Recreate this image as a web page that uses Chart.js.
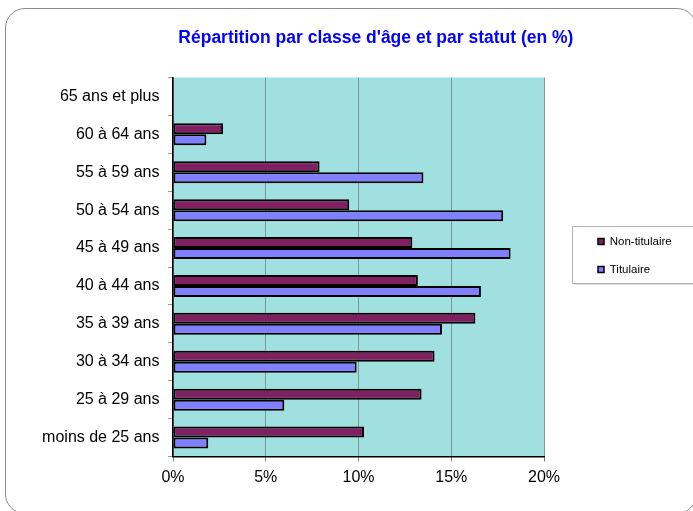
<!DOCTYPE html>
<html>
<head>
<meta charset="utf-8">
<script src="https://cdn.jsdelivr.net/npm/chart.js@4.4.1/dist/chart.umd.min.js"></script>
<style>
  html, body { margin: 0; padding: 0; background: #ffffff; overflow: hidden; }
  #wrap { position: relative; width: 693px; height: 511px; overflow: hidden; }
  #frame { position: absolute; left: 5px; top: 8px; width: 692px; height: 506px;
           border: 1px solid #8c8c8c; border-radius: 20px; box-sizing: border-box; }
  #c { position: absolute; left: 0; top: 0; }
</style>
</head>
<body>
<div id="wrap">
  <div id="frame"></div>
  <canvas id="c" width="693" height="511"></canvas>
</div>
<script>
const titleText = "Répartition par classe d'âge et par statut (en %)";
const categories = ['65 ans et plus', '60 à 64 ans', '55 à 59 ans', '50 à 54 ans', '45 à 49 ans',
                    '40 à 44 ans', '35 à 39 ans', '30 à 34 ans', '25 à 29 ans', 'moins de 25 ans'];
const seriesNames = ['Non-titulaire', 'Titulaire'];
const nonTitulaire = [0, 2.7, 7.9, 9.5, 12.9, 13.2, 16.3, 14.1, 13.4, 10.3];
const titulaire    = [0, 1.8, 13.5, 17.8, 18.2, 16.6, 14.5, 9.9, 6.0, 1.9];
const xMin = 0, xMax = 20, xStep = 5;

const FONT = "'Liberation Sans', Arial, sans-serif";

const plotBg = {
  id: 'plotBg',
  beforeDraw(chart) {
    const a = chart.chartArea, ctx = chart.ctx;
    ctx.save();
    ctx.fillStyle = '#a0e0e0';
    ctx.fillRect(a.left, a.top, a.right - a.left, a.bottom - a.top);
    ctx.restore();
  }
};

// the original title is centred over the plot + legend block, not the whole canvas
const titleShift = {
  id: 'titleShift',
  afterLayout(chart) {
    const tb = chart.titleBlock;
    if (tb) { tb.left += 20; tb.right += 20; }
  }
};

const legendFrame = {
  id: 'legendFrame',
  afterDraw(chart) {
    const lg = chart.legend;
    if (!lg || !lg.legendHitBoxes || lg.legendHitBoxes.length < 2) return;
    const h0 = lg.legendHitBoxes[0], h1 = lg.legendHitBoxes[lg.legendHitBoxes.length - 1];
    const ctx = chart.ctx;
    const left = Math.round(h0.left - 26) + 0.5;
    const top = Math.round(h0.top - 10) + 0.5;
    const bottom = Math.round(h1.top + h1.height + 7.5) + 0.5;
    ctx.save();
    ctx.strokeStyle = '#b4b4b4';
    ctx.lineWidth = 1;
    ctx.strokeRect(left, top, chart.width + 10 - left, bottom - top);
    ctx.strokeStyle = '#d8d8d8';
    ctx.beginPath();
    ctx.moveTo(left + 2, bottom + 1);
    ctx.lineTo(chart.width, bottom + 1);
    ctx.stroke();
    ctx.restore();
  }
};

new Chart(document.getElementById('c'), {
  type: 'bar',
  data: {
    labels: categories,
    datasets: [
      { label: seriesNames[0], data: nonTitulaire, backgroundColor: '#802060',
        borderColor: '#000000', borderWidth: 2, borderSkipped: false,
        categoryPercentage: 0.58, barPercentage: 1.0 },
      { label: seriesNames[1], data: titulaire, backgroundColor: '#8080ff',
        borderColor: '#000000', borderWidth: 2, borderSkipped: false,
        categoryPercentage: 0.58, barPercentage: 1.0 }
    ]
  },
  options: {
    indexAxis: 'y',
    responsive: false,
    animation: false,
    devicePixelRatio: 1,
    layout: { padding: { left: 30, right: 11.25, top: 0, bottom: 0 } },
    plugins: {
      title: {
        display: true,
        text: titleText,
        color: '#0000ff',
        font: { family: FONT, size: 17.5, weight: 'bold', lineHeight: 1.2 },
        padding: { top: 27.5, bottom: 29 }
      },
      legend: {
        display: true,
        position: 'right',
        align: 'center',
        labels: {
          color: '#000000',
          font: { family: FONT, size: 11.5 },
          boxWidth: 6,
          boxHeight: 6,
          padding: 16.5,
          generateLabels: chart => chart.data.datasets.map((ds, i) => ({
            text: ds.label, fillStyle: ds.backgroundColor, strokeStyle: '#000000',
            lineWidth: 1.5, hidden: false, datasetIndex: i, fontColor: '#000000'
          }))
        }
      },
      tooltip: { enabled: false }
    },
    scales: {
      x: {
        type: 'linear',
        position: 'bottom',
        min: xMin, max: xMax,
        ticks: {
          stepSize: xStep,
          color: '#000000',
          font: { family: FONT, size: 16 },
          padding: 6,
          callback: v => v + '%'
        },
        grid: { color: '#789898', lineWidth: 1, drawTicks: true, tickLength: 5, tickColor: '#7a7a7a' },
        border: { display: true, color: '#000000', width: 1.5 },
        afterFit: s => { s.height = 54.5; }
      },
      y: {
        type: 'category',
        position: 'left',
        ticks: { color: '#000000', font: { family: FONT, size: 16 }, padding: 8.5 },
        grid: { display: true, drawOnChartArea: false, drawTicks: true, tickLength: 5, color: '#9a9a9a', offset: true },
        border: { display: true, color: '#000000', width: 1.5 },
        afterFit: s => { s.width = 143; }
      },
      y2: {
        type: 'linear',
        position: 'right',
        display: true,
        ticks: { display: false },
        grid: { display: false, drawTicks: false },
        border: { display: false },
        afterFit: s => { s.width = 37.5; }
      }
    }
  },
  plugins: [plotBg, titleShift, legendFrame]
});
</script>
</body>
</html>
